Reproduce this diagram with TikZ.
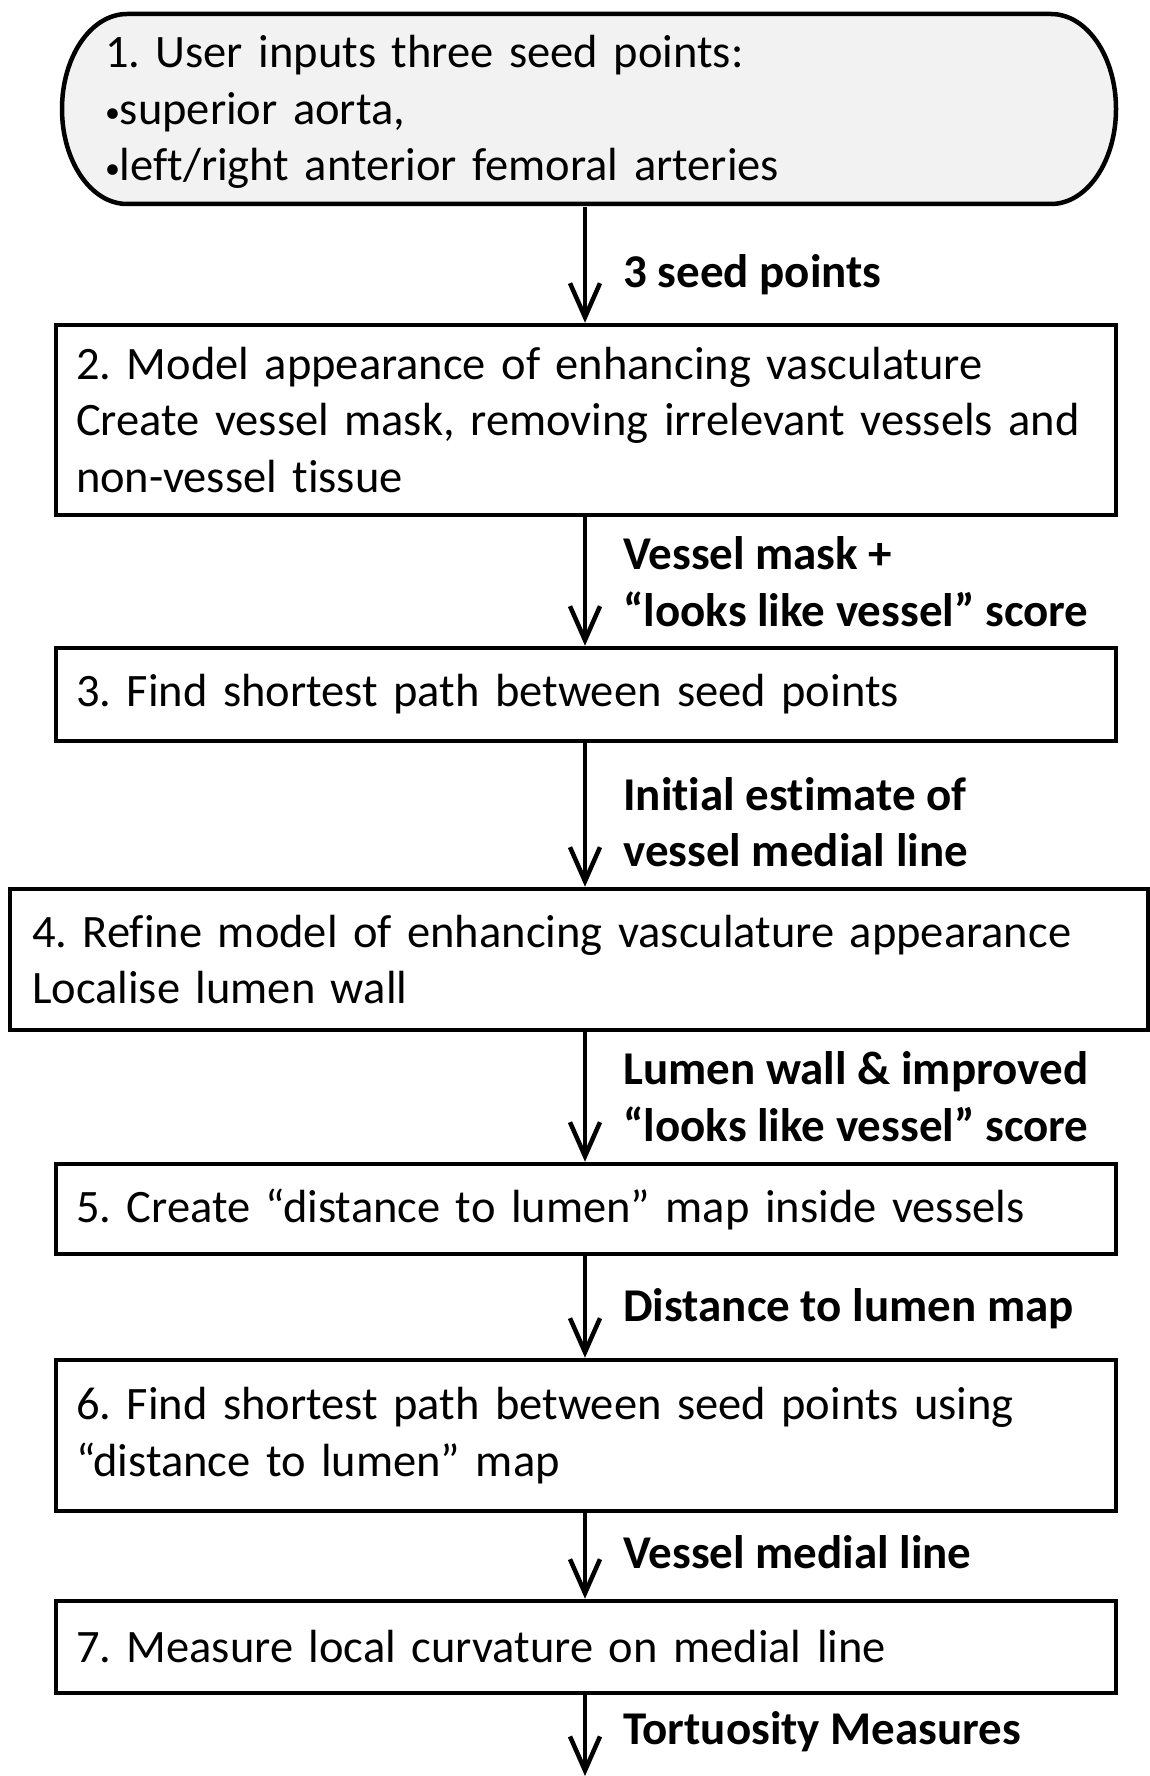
\documentclass[tikz,border=0pt]{standalone}
\usepackage{fontspec}
\setmainfont{Carlito}[Ligatures=NoCommon]
\usetikzlibrary{arrows.meta}
\definecolor{termfill}{HTML}{F2F2F2}
\newcommand{\smbul}{{\fontsize{30}{30}\selectfont\raisebox{2pt}{•}}}
\begin{document}
\frenchspacing
\begin{tikzpicture}[x=1pt,y=-1pt,
  txt/.style={font=\fontsize{46.5}{56.7}\selectfont},
  box/.style={txt,draw,line width=4.5pt,minimum width=1060pt,text width=1020pt,align=left,inner xsep=20pt,inner ysep=0pt},
  flow/.style={line width=4.5pt,-{Straight Barb[length=34pt,width=30pt,line width=4.5pt]}},
  lbl/.style={font=\fontsize{47}{56.7}\selectfont\bfseries,align=left,anchor=west,inner sep=0pt,xshift=36pt}]
\useasboundingbox (0,0) rectangle (1150,1776);
% terminator shape
\draw[line width=4.5pt,fill=termfill] (127,14) -- (1051,14)
  arc[start angle=90,end angle=-90,x radius=65pt,y radius=95pt] -- (127,204)
  arc[start angle=270,end angle=90,x radius=65pt,y radius=95pt] -- cycle;
\node[txt,align=left,minimum width=1054pt,minimum height=190pt,text width=968pt,inner xsep=43pt,inner ysep=0pt] (b1) at (589,112)
  {1. User inputs three seed points:\\ \smbul superior aorta,\\ \smbul left/right anterior femoral arteries};
\node[box,minimum height=190pt] (b2) at (586,420)
  {2. Model appearance of enhancing vasculature\\ Create vessel mask, removing irrelevant vessels and\\ non-vessel tissue};
\node[box,minimum height=93pt] (b3) at (586,694.5) {3. Find shortest path between seed points};
\node[box,minimum width=1138pt,text width=1094pt,inner xsep=22pt,minimum height=141pt] (b4) at (579,959.5)
  {4. Refine model of enhancing vasculature appearance\\ Localise lumen wall};
\node[box,minimum height=90pt] (b5) at (586,1209) {5. Create “distance to lumen” map inside vessels};
\node[box,minimum height=151pt] (b6) at (586,1435.5)
  {6. Find shortest path between seed points using\\ “distance to lumen” map};
\node[box,minimum height=92pt] (b7) at (586,1647) {7. Measure local curvature on medial line};
\coordinate (ax) at (585,0);
\coordinate (end) at (585,1776);
\draw[flow] (b1.south -| ax) -- node[lbl,pos=0.58] (l1) {3 seed points} (b2.north -| ax);
\draw[flow] (b2.south -| ax) -- node[lbl,pos=0.5] (l2) {Vessel mask +\\ “looks like vessel” score} (b3.north -| ax);
\draw[flow] (b3.south -| ax) -- node[lbl,pos=0.55] (l3) {Initial estimate of\\ vessel medial line} (b4.north -| ax);
\draw[flow] (b4.south -| ax) -- node[lbl,pos=0.5] (l4) {Lumen wall \& improved\\ “looks like vessel” score} (b5.north -| ax);
\draw[flow] (b5.south -| ax) -- node[lbl,pos=0.52] (l5) {Distance to lumen map} (b6.north -| ax);
\draw[flow] (b6.south -| ax) -- node[lbl,pos=0.45] (l6) {Vessel medial line} (b7.north -| ax);
\draw[flow] (b7.south -| ax) -- node[lbl,pos=0.45] (l7) {Tortuosity Measures} (end);
\end{tikzpicture}
\end{document}
